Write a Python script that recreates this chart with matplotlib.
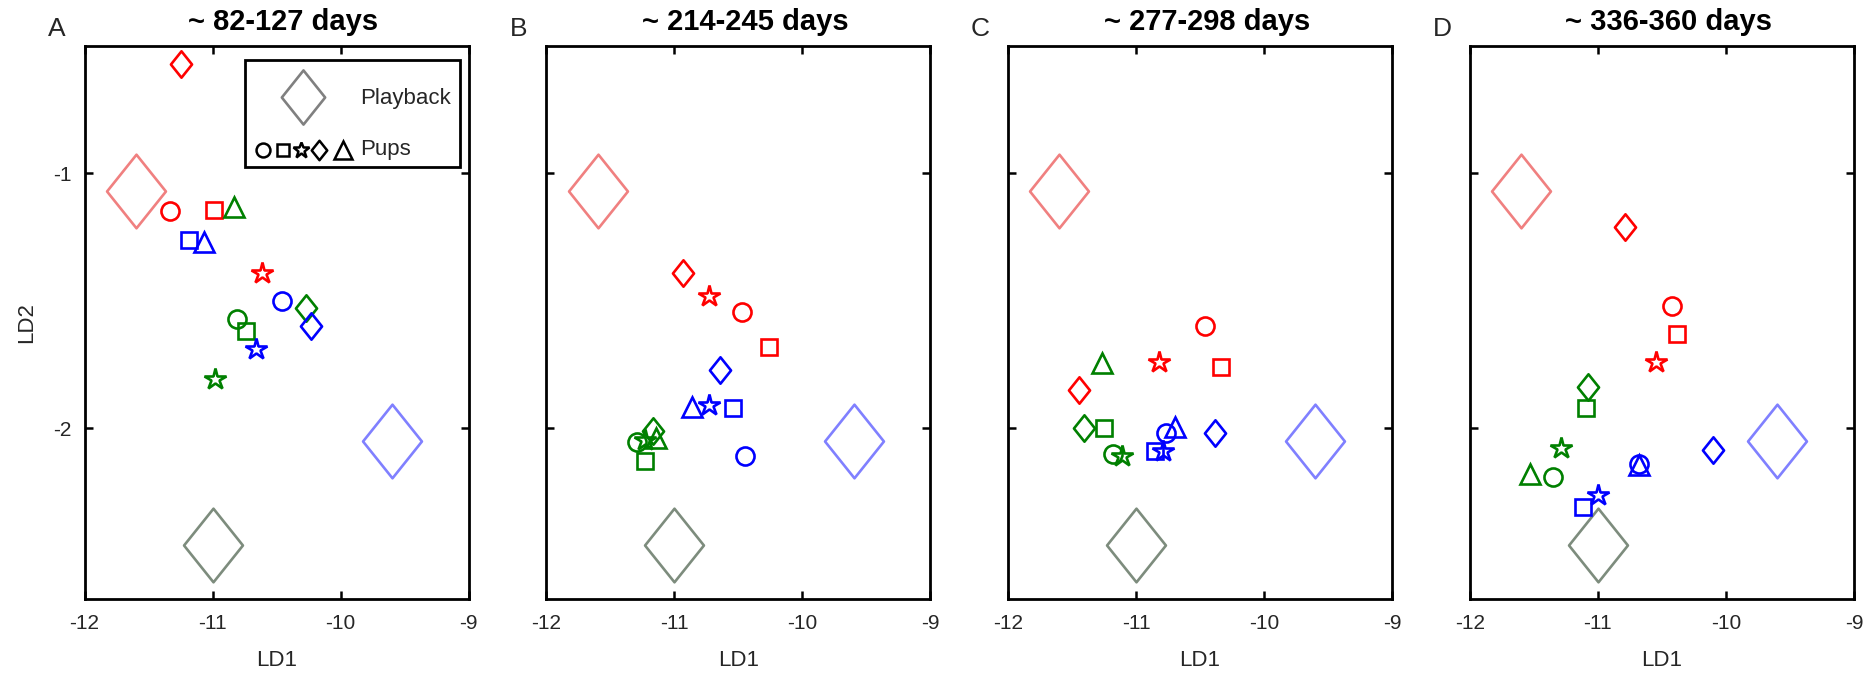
import numpy as np
import matplotlib
matplotlib.use('Agg')
import matplotlib.pyplot as plt
from matplotlib.path import Path
from matplotlib.patches import Rectangle

plt.rcParams['font.family'] = ['Liberation Sans', 'DejaVu Sans']
plt.rcParams['axes.unicode_minus'] = False

titles = ['~ 82-127 days', '~ 214-245 days', '~ 277-298 days', '~ 336-360 days']
panel_letters = ['A', 'B', 'C', 'D']
x_ticks = [-12, -11, -10, -9]
y_ticks = [-2, -1]

# playback stimuli, same position in every panel
playback_x = [-11.6, -9.6, -11.0]
playback_y = [-1.07, -2.05, -2.46]
playback_colors = ['#f08080', '#8080ff', '#7d8c7d']

# pups: rows = red, green, blue / columns = circle, square, star, diamond, triangle
pup_colors = ['#ff0000', '#008000', '#0000ff']
shapes = ['circle', 'square', 'star', 'diamond', 'triangle']

ld1_A = [[-11.33, -10.99, -10.61, -11.25, np.nan],
         [-10.81, -10.74, -10.98, -10.27, -10.83],
         [-10.46, -11.18, -10.66, -10.23, -11.07]]
ld2_A = [[-1.146, -1.144, -1.39, -0.57, np.nan],
         [-1.57, -1.62, -1.805, -1.53, -1.13],
         [-1.50, -1.26, -1.69, -1.60, -1.27]]

ld1_B = [[-10.47, -10.26, -10.73, -10.93, np.nan],
         [-11.29, -11.23, -11.23, -11.17, -11.14],
         [-10.45, -10.54, -10.73, -10.64, -10.86]]
ld2_B = [[-1.545, -1.68, -1.48, -1.39, np.nan],
         [-2.054, -2.13, -2.045, -2.01, -2.04],
         [-2.11, -1.92, -1.91, -1.77, -1.915]]

ld1_C = [[-10.46, -10.34, -10.82, -11.45, np.nan],
         [-11.18, -11.25, -11.11, -11.41, -11.27],
         [-10.77, -10.85, -10.79, -10.38, -10.70]]
ld2_C = [[-1.60, -1.76, -1.74, -1.85, np.nan],
         [-2.10, -2.0, -2.11, -2.0, -1.745],
         [-2.02, -2.09, -2.09, -2.02, -1.995]]

ld1_D = [[-10.42, -10.38, -10.55, -10.79, np.nan],
         [-11.35, -11.09, -11.29, -11.08, -11.53],
         [-10.68, -11.12, -11.0, -10.10, -10.68]]
ld2_D = [[-1.52, -1.63, -1.74, -1.21, np.nan],
         [-2.19, -1.92, -2.076, -1.84, -2.18],
         [-2.14, -2.31, -2.26, -2.085, -2.145]]

all_ld1 = [ld1_A, ld1_B, ld1_C, ld1_D]
all_ld2 = [ld2_A, ld2_B, ld2_C, ld2_D]

# diamonds in the original are a bit taller than wide
tall_diamond = Path([(0, 1), (0.8, 0), (0, -1), (-0.8, 0), (0, 1)],
                    [Path.MOVETO, Path.LINETO, Path.LINETO, Path.LINETO, Path.CLOSEPOLY])
markers = {'circle': ('o', 13), 'square': ('s', 11), 'star': ('*', 16),
           'diamond': (tall_diamond, 19), 'triangle': ('^', 15)}

fig = plt.figure(figsize=(18.76, 6.81), dpi=100)

for i in range(4):
    ax = fig.add_axes([(84.5 + 461.8 * i) / 1876, 82 / 681, 384 / 1876, 553 / 681])

    for k in range(len(playback_x)):
        ax.plot(playback_x[k], playback_y[k], ls='none', marker=tall_diamond, ms=53,
                mfc='none', mec=playback_colors[k], mew=1.9)

    for c in range(3):
        for s, shape in enumerate(shapes):
            m, ms = markers[shape]
            ax.plot(all_ld1[i][c][s], all_ld2[i][c][s], ls='none', marker=m, ms=ms,
                    mfc='none', mec=pup_colors[c], mew=1.9)

    ax.set_xlim(-12, -9)
    ax.set_ylim(-2.67, -0.5)
    ax.set_xticks(x_ticks)
    ax.set_yticks(y_ticks)
    ax.tick_params(direction='in', top=True, right=True, length=6, width=1.8,
                   labelsize=15, labelcolor='#262626')
    ax.tick_params(axis='x', pad=11)
    ax.tick_params(axis='y', pad=9)
    for sp in ax.spines.values():
        sp.set_linewidth(2)
    if i > 0:
        ax.set_yticklabels([])
    else:
        ax.set_ylabel('LD2', fontsize=16, color='#262626', labelpad=12)
    ax.set_xlabel('LD1', fontsize=16, color='#262626', labelpad=12)

    ax.text(0.518, 1.044, titles[i], transform=ax.transAxes, ha='center', va='center',
            fontsize=21, fontweight='bold')
    ax.text(-0.072, 1.031, panel_letters[i], transform=ax.transAxes, ha='center',
            va='center', fontsize=19, color='#262626')

    if i == 0:
        # hand made legend box like the original
        ax.add_patch(Rectangle((0.418, 0.781), 0.559, 0.193, transform=ax.transAxes,
                               fill=False, lw=2, ec='black', zorder=5))
        ax.plot(0.570, 0.907, transform=ax.transAxes, ls='none', marker=tall_diamond,
                ms=39, mfc='none', mec='#808080', mew=1.9, zorder=6)
        ax.text(0.717, 0.905, 'Playback', transform=ax.transAxes, va='center',
                fontsize=16, color='#262626')
        leg_x = [0.4656, 0.516, 0.564, 0.611, 0.673]
        leg_ms = [10, 9, 12, 14, 13]
        for s, shape in enumerate(shapes):
            m = markers[shape][0]
            ax.plot(leg_x[s], 0.812, transform=ax.transAxes, ls='none', marker=m,
                    ms=leg_ms[s], mfc='none', mec='black', mew=1.8, zorder=6)
        ax.text(0.717, 0.812, 'Pups', transform=ax.transAxes, va='center',
                fontsize=16, color='#262626')

fig.savefig('out.png', dpi=100)
